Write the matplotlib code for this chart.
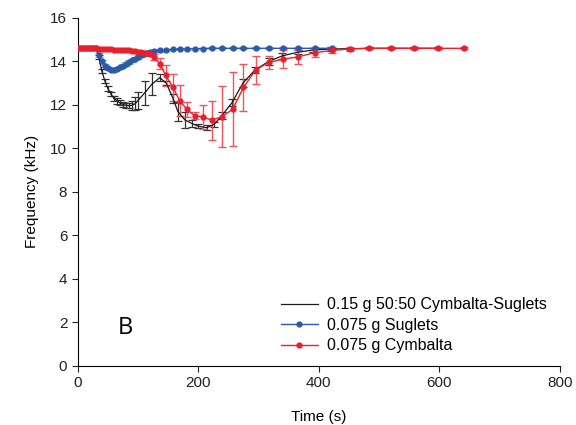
import matplotlib
matplotlib.use("Agg")
import matplotlib.pyplot as plt

plt.rcParams['font.family'] = ['Liberation Sans', 'DejaVu Sans']

# 0.15 g 50:50 Cymbalta-Suglets (black)
t_mix = [0, 5, 10, 15, 20, 25, 30, 35, 40, 45, 50, 55, 60, 65, 70, 75, 80, 85, 90, 95, 100,
         111, 123, 136, 147, 158, 166, 178, 189, 200, 214, 226, 239, 256, 274, 294, 317,
         339, 365, 390, 420, 451, 483, 519, 558, 597]
f_mix = [14.6, 14.6, 14.6, 14.6, 14.6, 14.6, 14.6, 14.2, 13.55, 13.1, 12.75, 12.5, 12.3, 12.18,
         12.1, 12.02, 11.98, 11.96, 11.98, 12.05, 12.2,
         12.55, 12.95, 13.25, 13.0, 12.3, 11.7, 11.3, 11.15, 11.02, 10.95, 11.1, 11.5, 12.1,
         13.0, 13.6, 14.0, 14.25, 14.42, 14.52, 14.57, 14.58, 14.6, 14.6, 14.6, 14.6]
e_mix = [0.05, 0.05, 0.05, 0.05, 0.05, 0.05, 0.05, 0.1, 0.1, 0.1, 0.1, 0.1, 0.1, 0.12,
         0.12, 0.12, 0.12, 0.12, 0.2, 0.3, 0.4,
         0.55, 0.5, 0.15, 0.1, 0.2, 0.45, 0.35, 0.15, 0.1, 0.12, 0.1, 0.15, 0.15,
         0.2, 0.15, 0.15, 0.15, 0.1, 0.1, 0.08, 0.05, 0.05, 0.05, 0.05, 0.05]

# 0.075 g Suglets (blue)
t_sug = [0, 5, 10, 15, 20, 25, 30, 35, 40, 45, 50, 55, 60, 65, 70, 75, 80, 85, 90, 95, 100,
         105, 110, 115, 120, 126, 136, 146, 158, 169, 181, 194, 207, 222, 239, 257, 275,
         295, 317, 340, 365, 393, 422]
f_sug = [14.6, 14.6, 14.6, 14.6, 14.6, 14.6, 14.6, 14.3, 14.0, 13.8, 13.68, 13.62, 13.62,
         13.66, 13.72, 13.8, 13.88, 13.96, 14.04, 14.12, 14.2, 14.27, 14.33, 14.38, 14.42,
         14.46, 14.5, 14.53, 14.55, 14.57, 14.58, 14.58, 14.59, 14.6, 14.6, 14.6, 14.6,
         14.6, 14.6, 14.6, 14.6, 14.6, 14.6]
e_sug = [0.03, 0.03, 0.03, 0.03, 0.03, 0.03, 0.03, 0.08, 0.08, 0.08, 0.08, 0.08, 0.08,
         0.08, 0.08, 0.08, 0.08, 0.08, 0.08, 0.08, 0.08, 0.08, 0.06, 0.06, 0.05,
         0.05, 0.05, 0.04, 0.04, 0.04, 0.04, 0.04, 0.04, 0.04, 0.04, 0.04, 0.04,
         0.04, 0.04, 0.04, 0.04, 0.04, 0.04]

# 0.075 g Cymbalta (red)
t_cym = [0, 5, 10, 15, 20, 25, 30, 35, 40, 45, 50, 55, 60, 65, 70, 75, 80, 85, 90, 95, 100,
         105, 110, 115, 120, 126, 136, 146, 158, 169, 181, 194, 207, 222, 239, 257, 275,
         295, 317, 340, 365, 393, 422, 451, 483, 519, 558, 597, 641]
f_cym = [14.6, 14.6, 14.6, 14.6, 14.6, 14.6, 14.6, 14.58, 14.57, 14.56, 14.55, 14.55, 14.54,
         14.53, 14.52, 14.52, 14.5, 14.5, 14.48, 14.47, 14.45, 14.43, 14.4, 14.38, 14.35,
         14.2, 13.9, 13.35, 12.8, 12.2, 11.8, 11.5, 11.45, 11.3, 11.45, 11.8, 12.8,
         13.6, 13.95, 14.1, 14.2, 14.4, 14.5, 14.57, 14.6, 14.6, 14.6, 14.6, 14.6]
e_cym = [0.03, 0.03, 0.03, 0.03, 0.03, 0.03, 0.03, 0.03, 0.03, 0.03, 0.03, 0.03, 0.03,
         0.03, 0.03, 0.03, 0.03, 0.03, 0.03, 0.03, 0.04, 0.05, 0.06, 0.08, 0.1,
         0.15, 0.25, 0.5, 0.6, 0.7, 0.35, 0.15, 0.55, 0.9, 1.4, 1.7, 1.1,
         0.65, 0.3, 0.4, 0.3, 0.2, 0.12, 0.1, 0.05, 0.05, 0.05, 0.05, 0.05]

black = '#1a1a1a'
blue = '#2c5aa8'
red = '#e8202e'

fig = plt.figure(figsize=(5.76, 4.25), dpi=100)
ax = fig.add_axes([0.135, 0.139, 0.837, 0.819])

ax.errorbar(t_mix, f_mix, yerr=e_mix, fmt='none', ecolor='#333333', elinewidth=0.9,
            capsize=3, capthick=0.9, zorder=2)
ax.plot(t_mix, f_mix, color=black, lw=0.9, zorder=3, label='0.15 g 50:50 Cymbalta-Suglets')

ax.errorbar(t_sug, f_sug, yerr=e_sug, fmt='none', ecolor='#7f9fd6', elinewidth=0.9,
            capsize=3, capthick=0.9, zorder=2)
ax.plot(t_sug, f_sug, color=blue, lw=1.0, marker='o', ms=3.5, zorder=4,
        label='0.075 g Suglets')

ax.errorbar(t_cym, f_cym, yerr=e_cym, fmt='none', ecolor='#f0525e', elinewidth=1.0,
            capsize=3, capthick=1.0, zorder=2)
ax.plot(t_cym, f_cym, color=red, lw=1.0, marker='o', ms=3.5, zorder=5,
        label='0.075 g Cymbalta')

ax.set_xlim(0, 800)
ax.set_ylim(0, 16)
ax.set_xticks([0, 200, 400, 600, 800])
ax.set_yticks(range(0, 17, 2))
ax.spines['top'].set_visible(False)
ax.spines['right'].set_visible(False)
ax.tick_params(direction='out', length=4, labelsize=11, colors='#222222')
ax.set_xlabel('Time (s)', fontsize=11, labelpad=14)
ax.set_ylabel('Frequency (kHz)', fontsize=11, labelpad=8)

ax.text(66, 1.75, 'B', fontsize=17, family=['Open Sans', 'DejaVu Sans'], va='center')

leg = ax.legend(loc='lower right', fontsize=11.5, handlelength=2.3, handletextpad=0.6,
                frameon=False, borderaxespad=0.4, labelspacing=0.34)

fig.savefig('out.png', dpi=100)
